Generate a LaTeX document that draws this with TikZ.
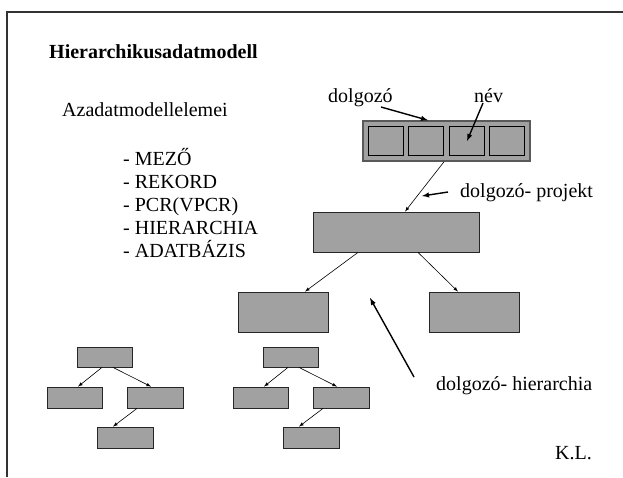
\documentclass[tikz,border=0pt]{standalone}
\usepackage{fontspec}
\setmainfont{Liberation Serif}
\usetikzlibrary{calc}

\begin{document}
\begin{tikzpicture}[x=1pt,y=-1pt,
		txt/.style={anchor=base west,inner sep=0pt,font=\fontsize{20}{24}\selectfont},
		box/.style={draw=black!85,fill=black!37,line width=0.8pt,inner sep=0pt},
		cell/.style={draw=black,fill=black!37,line width=1.8pt,inner sep=0pt,minimum width=35pt,minimum height=29pt},
		link/.style={line width=0.6pt,-latex},
		hint/.style={line width=1.4pt,-latex}]
		\useasboundingbox (0,0) rectangle (623,477);
		% keret
		\draw[black!80,line width=1.3pt] (7,477) -- (7,12) -- (623,12);
		% szovegek
		\node[txt,font=\fontsize{20}{24}\selectfont\bfseries] (cim) at (49,58) {Hierarchikusadatmodell};
		\node[txt] (elemek) at (62,116) {Azadatmodellelemei};
		\node[txt] (l1) at (123,165) {- MEZŐ};
		\node[txt] (l2) at (123,188) {- REKORD};
		\node[txt] (l3) at (123,211) {- PCR(VPCR)};
		\node[txt] (l4) at (123,234) {- HIERARCHIA};
		\node[txt] (l5) at (123,257) {- ADATBÁZIS};
		\node[txt] (dolg) at (328,102) {dolgozó};
		\node[txt] (nev) at (474,102) {név};
		\node[txt] (proj) at (460,197) {dolgozó- projekt};
		\node[txt] (hier) at (436,390) {dolgozó- hierarchia};
		\node[txt] (kl) at (555,459) {K.L.};
		% rekord a mezokkel
		\node[box,draw=black!65,line width=1.5pt,minimum width=167pt,minimum height=40pt] (rek) at (446.5,141) {};
		\foreach \x [count=\i] in {386,426,467,507}
			\node[cell] (m\i) at (\x,141) {};
		% dolgozo-projekt szintek
		\node[box,minimum width=166pt,minimum height=40pt] (mid) at (396,232) {};
		\node[box,minimum width=90pt,minimum height=40pt] (bal) at (283,312) {};
		\node[box,minimum width=90pt,minimum height=40pt] (jobb) at (474,312) {};
		\draw[link] ([xshift=-2.5pt]rek.south) -- ([xshift=9pt]mid.north);
		\draw[link] ([xshift=-38pt]mid.south) -- ([xshift=22pt]bal.north);
		\draw[link] ([xshift=22pt]mid.south) -- ([xshift=-16pt]jobb.north);
		% kis hierarchiak
		\foreach \dx/\t in {0/a,186/b} {
			\node[box,minimum width=55pt,minimum height=20pt] (\t0) at (104.5+\dx,357) {};
			\node[box,minimum width=55pt,minimum height=21pt] (\t1) at (74.5+\dx,397.5) {};
			\node[box,minimum width=56pt,minimum height=21pt] (\t2) at (155+\dx,397.5) {};
			\node[box,minimum width=56pt,minimum height=21pt] (\t3) at (125+\dx,437.5) {};
			\draw[link] ([xshift=-2.5pt]\t0.south) -- ([xshift=3.5pt]\t1.north);
			\draw[link] ([xshift=8.5pt]\t0.south) -- ([xshift=-4pt]\t2.north);
			\draw[link] ([xshift=-18pt]\t2.south) -- ([xshift=-12pt]\t3.north);
		}
		% magyarazo nyilak
		\coordinate (d0) at (381,107);
		\coordinate (n0) at (483,103);
		\coordinate (p0) at (448,192);
		\coordinate (p1) at (422,196);
		\coordinate (h0) at (414,377);
		\coordinate (h1) at (370,298);
		\draw[hint] (d0) -- ([xshift=-18.5pt]rek.north);
		\draw[hint] (n0) -- (m3.center);
		\draw[hint] (p0) -- (p1);
		\draw[hint] (h0) -- (h1);
	\end{tikzpicture}
\end{document}
